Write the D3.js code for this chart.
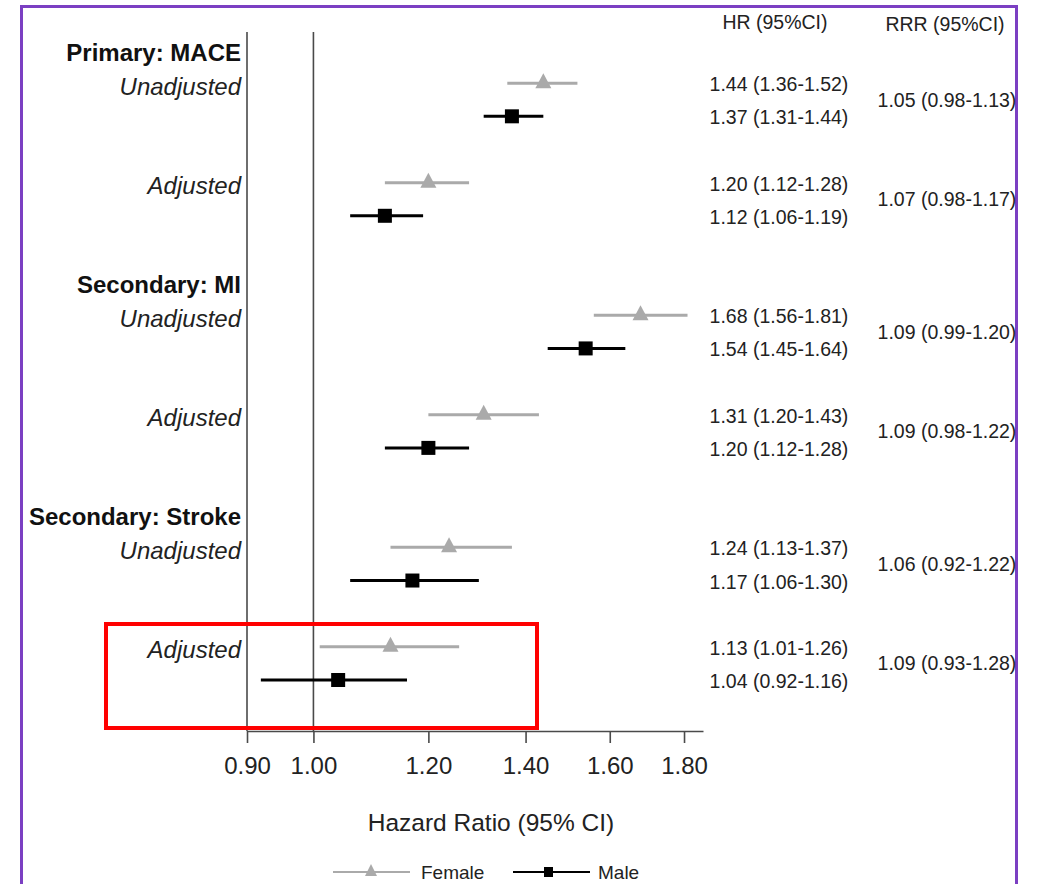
<!DOCTYPE html>
<html>
<head>
<meta charset="utf-8">
<script src="https://cdn.jsdelivr.net/npm/d3@7"></script>
<style>
  html, body { margin: 0; padding: 0; background: #fff; }
  svg { display: block; font-family: "Liberation Sans", Arial, sans-serif; }
</style>
</head>
<body>
<div id="chart"></div>
<script>
// ── Forest plot: HR by sex, with RRR (female vs male) ──────────
const groups    = ["Primary: MACE", "Secondary: MI", "Secondary: Stroke"];
const models    = ["Unadjusted", "Adjusted"];

// one entry per group x model, in reading order
const femaleHR  = [1.44, 1.20, 1.68, 1.31, 1.24, 1.13];
const femaleLo  = [1.36, 1.12, 1.56, 1.20, 1.13, 1.01];
const femaleHi  = [1.52, 1.28, 1.81, 1.43, 1.37, 1.26];
const maleHR    = [1.37, 1.12, 1.54, 1.20, 1.17, 1.04];
const maleLo    = [1.31, 1.06, 1.45, 1.12, 1.06, 0.92];
const maleHi    = [1.44, 1.19, 1.64, 1.28, 1.30, 1.16];
const rrrVal    = [1.05, 1.07, 1.09, 1.09, 1.06, 1.09];
const rrrLo     = [0.98, 0.98, 0.99, 0.98, 0.92, 0.93];
const rrrHi     = [1.13, 1.17, 1.20, 1.22, 1.22, 1.28];

const tickValues = [0.90, 1.00, 1.20, 1.40, 1.60, 1.80];
const seriesNames = ["Female", "Male"];

const width = 1040, height = 884;
const f2 = d3.format(".2f");
const ci = (v, lo, hi) => `${f2(v)} (${f2(lo)}-${f2(hi)})`;

const svg = d3.select("#chart").append("svg")
    .attr("width", width).attr("height", height);

// purple frame (bottom edge runs off the picture)
svg.append("rect")
    .attr("x", 21.5).attr("y", 6.5).attr("width", 995).attr("height", 920)
    .attr("fill", "none").attr("stroke", "#7b3fc2").attr("stroke-width", 3);

const x = d3.scaleLog().domain([0.9, 1.855]).range([247, 703]);
// row slots: header, unadj F/M, gap, adj F/M, gap, next header...
const y = d3.scaleLinear().domain([0, 19]).range([50, 680]);
const axisY = 731;

const rows = femaleHR.map((d, i) => {
    const g = Math.floor(i / 2), m = i % 2;
    const slot = g * 7 + 1 + m * 3;
    return {
        group: g, model: models[m], slot,
        female: { hr: femaleHR[i], lo: femaleLo[i], hi: femaleHi[i] },
        male:   { hr: maleHR[i],   lo: maleLo[i],   hi: maleHi[i] },
        rrr:    { hr: rrrVal[i],   lo: rrrLo[i],    hi: rrrHi[i] }
    };
});

// vertical lines at 0.90 (left edge) and 1.00 (reference)
[0.9, 1.0].forEach(v => {
    svg.append("line")
        .attr("x1", x(v)).attr("x2", x(v)).attr("y1", 32).attr("y2", axisY)
        .attr("stroke", "#4a4a4a").attr("stroke-width", 1.6);
});

// axis
const axis = svg.append("g").attr("transform", `translate(0,${axisY})`)
    .call(d3.axisBottom(x).tickValues(tickValues).tickFormat(f2)
        .tickSize(12).tickSizeOuter(0).tickPadding(14));
axis.select(".domain").attr("stroke", "#4a4a4a").attr("stroke-width", 1.6);
axis.selectAll(".tick line").attr("stroke", "#4a4a4a").attr("stroke-width", 1.6);
axis.selectAll(".tick text")
    .style("font-family", "'Liberation Sans', Arial, sans-serif")
    .style("font-size", "24px").attr("fill", "#222");

svg.append("text").attr("x", 491).attr("y", 831).attr("text-anchor", "middle")
    .style("font-size", "24.5px").attr("fill", "#222").text("Hazard Ratio (95% CI)");

// group headers and model labels
const labelX = 241;
groups.forEach((g, gi) => {
    svg.append("text").attr("x", labelX).attr("y", y(gi * 7) + 2)
        .attr("text-anchor", "end").attr("dominant-baseline", "central")
        .style("font-size", "24px").style("font-weight", "bold").attr("fill", "#111")
        .text(g);
});
svg.selectAll("text.model").data(rows).join("text").attr("class", "model")
    .attr("x", labelX).attr("y", d => y(d.slot) + 3)
    .attr("text-anchor", "end").attr("dominant-baseline", "central")
    .style("font-size", "24px").style("font-style", "italic").attr("fill", "#222")
    .text(d => d.model);

// CI lines + markers
const grey = "#aaaaaa";
const tri = "M0,-11L8,4L-8,4Z";

const fem = svg.append("g");
fem.selectAll("line").data(rows).join("line")
    .attr("x1", d => x(d.female.lo)).attr("x2", d => x(d.female.hi))
    .attr("y1", d => y(d.slot)).attr("y2", d => y(d.slot))
    .attr("stroke", grey).attr("stroke-width", 3);
fem.selectAll("path").data(rows).join("path")
    .attr("d", tri)
    .attr("transform", d => `translate(${x(d.female.hr)},${y(d.slot) + 1})`)
    .attr("fill", grey);

const mal = svg.append("g");
mal.selectAll("line").data(rows).join("line")
    .attr("x1", d => x(d.male.lo)).attr("x2", d => x(d.male.hi))
    .attr("y1", d => y(d.slot + 1)).attr("y2", d => y(d.slot + 1))
    .attr("stroke", "#000").attr("stroke-width", 3);
mal.selectAll("rect").data(rows).join("rect")
    .attr("x", d => x(d.male.hr) - 7).attr("y", d => y(d.slot + 1) - 7)
    .attr("width", 14).attr("height", 14).attr("fill", "#000");

// text columns
const hrX = 779, rrrX = 947;
svg.append("text").attr("x", 775).attr("y", 22).attr("text-anchor", "middle")
    .attr("dominant-baseline", "central").style("font-size", "19.5px").attr("fill", "#222")
    .text("HR (95%CI)");
svg.append("text").attr("x", 945).attr("y", 24).attr("text-anchor", "middle")
    .attr("dominant-baseline", "central").style("font-size", "19.5px").attr("fill", "#222")
    .text("RRR (95%CI)");

const txt = svg.append("g").style("font-size", "19.5px").attr("fill", "#222")
    .attr("text-anchor", "middle").attr("dominant-baseline", "central");
rows.forEach(d => {
    txt.append("text").attr("x", hrX).attr("y", y(d.slot) + 1)
        .text(ci(d.female.hr, d.female.lo, d.female.hi));
    txt.append("text").attr("x", hrX).attr("y", y(d.slot + 1) + 1)
        .text(ci(d.male.hr, d.male.lo, d.male.hi));
    txt.append("text").attr("x", rrrX).attr("y", (y(d.slot) + y(d.slot + 1)) / 2)
        .text(ci(d.rrr.hr, d.rrr.lo, d.rrr.hi));
});

// red highlight box (annotation)
svg.append("rect").attr("x", 106).attr("y", 624).attr("width", 431).attr("height", 104)
    .attr("fill", "none").attr("stroke", "#ff0000").attr("stroke-width", 4);

// legend (kept just inside the bottom edge)
const legY = 872;
const leg = svg.selectAll("g.leg").data(seriesNames).join("g").attr("class", "leg")
    .attr("transform", (d, i) => `translate(${333 + i * 180},${legY})`);
leg.append("line").attr("x1", 0).attr("x2", 77)
    .attr("stroke", (d, i) => i ? "#000" : grey).attr("stroke-width", 2);
leg.filter((d, i) => i === 0).append("path")
    .attr("d", "M0,-8L6,4L-6,4Z").attr("transform", "translate(38,0)").attr("fill", grey);
leg.filter((d, i) => i === 1).append("rect")
    .attr("x", 31).attr("y", -5).attr("width", 9).attr("height", 10).attr("fill", "#000");
leg.append("text").attr("x", (d, i) => i ? 85 : 88).attr("y", 7)
    .style("font-size", "19px").attr("fill", "#222").text(d => d);
</script>
</body>
</html>
